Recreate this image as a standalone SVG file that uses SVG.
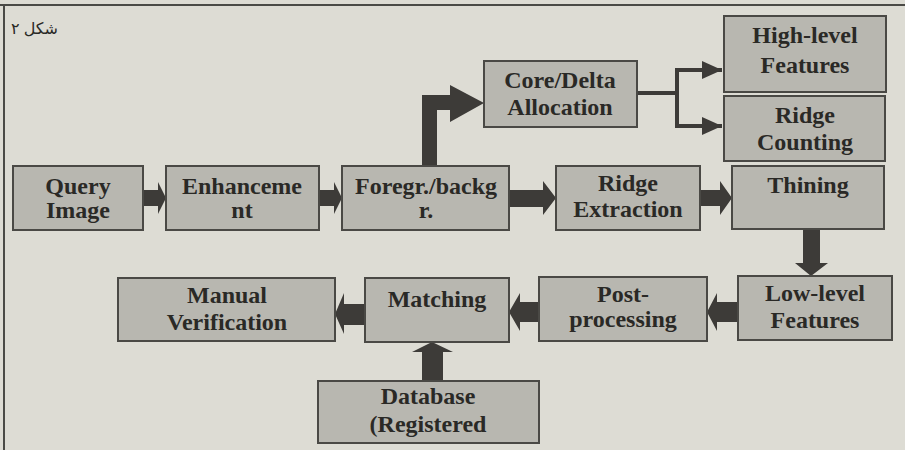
<svg xmlns="http://www.w3.org/2000/svg" width="905" height="450" viewBox="0 0 905 450">
<defs>
<style>
.bg{fill:#dddcd4}
.frame{stroke:#4a4a46;stroke-width:2;fill:none}
.box{fill:#b8b7b0;stroke:#4a4945;stroke-width:2}
.lbl{font-family:"Liberation Serif","Times New Roman",serif;font-weight:bold;font-size:24px;fill:#2a2926;text-anchor:middle}
.blk{fill:#3d3b38}
.thin{fill:none;stroke:#3d3b38;stroke-width:4;stroke-linejoin:miter}
.cap{font-family:"DejaVu Sans","Noto Sans",sans-serif;font-size:16px;fill:#2a2926}
</style>
<marker id="ah" markerUnits="userSpaceOnUse" markerWidth="22" markerHeight="20" refX="20" refY="10" orient="auto">
<path d="M0,1 L20,10 L0,19 Z" fill="#3d3b38"/>
</marker>
</defs>
<rect class="bg" x="0" y="0" width="905" height="450"/>
<path class="frame" d="M0 5 H905 M4 5 V450"/>
<text class="cap" x="11" y="34">۲</text>
<text class="cap" x="58" y="34" text-anchor="end">شکل</text>

<g id="connectors">
<polygon class="blk" points="143,190 158,190 158,182 166,198 158,214 158,206 143,206"/>
<polygon class="blk" points="319,190 334,190 334,182 342,198 334,214 334,206 319,206"/>
<polygon class="blk" points="509,190 543,190 543,181 556,198 543,215 543,207 509,207"/>
<polygon class="blk" points="700,190 720,190 720,181 732,198 720,215 720,206 700,206"/>
<polygon class="blk" points="422,166 422,95 450,95 450,85 484,103 450,122 450,110 437,110 437,166"/>
<polygon class="blk" points="803,229 820,229 820,263 828,263 811,276 795,263 803,263"/>
<polygon class="blk" points="738,302 717,302 717,293 707,312 717,331 717,322 738,322"/>
<polygon class="blk" points="539,302 520,302 520,293 509,312 520,331 520,322 539,322"/>
<polygon class="blk" points="365,304 344,304 344,293 335,314 344,334 344,325 365,325"/>
<polygon class="blk" points="422,381 422,352 412,352 432,342 453,352 443,352 443,381"/>
<path class="thin" d="M637 93 H677 V70 H722" marker-end="url(#ah)"/>
<path class="thin" d="M677 93 V126 H722" marker-end="url(#ah)"/>
</g>

<g id="query-image">
<rect class="box" x="13" y="166" width="130" height="64"/>
<text class="lbl" x="78" y="194">Query</text>
<text class="lbl" x="78" y="218">Image</text>
</g>
<g id="enhancement">
<rect class="box" x="166" y="166" width="153" height="64"/>
<text class="lbl" x="242" y="194">Enhanceme</text>
<text class="lbl" x="242" y="218">nt</text>
</g>
<g id="foreground">
<rect class="box" x="342" y="166" width="167" height="64"/>
<text class="lbl" x="426" y="194">Foregr./backg</text>
<text class="lbl" x="426" y="218">r.</text>
</g>
<g id="ridge-extraction">
<rect class="box" x="556" y="166" width="144" height="64"/>
<text class="lbl" x="628" y="191">Ridge</text>
<text class="lbl" x="628" y="217">Extraction</text>
</g>
<g id="thining">
<rect class="box" x="732" y="166" width="152" height="63"/>
<text class="lbl" x="808" y="193">Thining</text>
</g>
<g id="core-delta">
<rect class="box" x="484" y="61" width="153" height="66"/>
<text class="lbl" x="560" y="88">Core/Delta</text>
<text class="lbl" x="560" y="115">Allocation</text>
</g>
<g id="high-level">
<rect class="box" x="724" y="16" width="162" height="76"/>
<text class="lbl" x="805" y="43">High-level</text>
<text class="lbl" x="805" y="73">Features</text>
</g>
<g id="ridge-counting">
<rect class="box" x="724" y="96" width="161" height="65"/>
<text class="lbl" x="805" y="123">Ridge</text>
<text class="lbl" x="805" y="150">Counting</text>
</g>
<g id="low-level">
<rect class="box" x="738" y="276" width="154" height="64"/>
<text class="lbl" x="815" y="301">Low-level</text>
<text class="lbl" x="815" y="328">Features</text>
</g>
<g id="post-processing">
<rect class="box" x="539" y="277" width="168" height="64"/>
<text class="lbl" x="623" y="302">Post-</text>
<text class="lbl" x="623" y="327">processing</text>
</g>
<g id="matching">
<rect class="box" x="365" y="278" width="144" height="64"/>
<text class="lbl" x="437" y="307">Matching</text>
</g>
<g id="manual-verification">
<rect class="box" x="118" y="278" width="217" height="63"/>
<text class="lbl" x="227" y="303">Manual</text>
<text class="lbl" x="227" y="330">Verification</text>
</g>
<g id="database">
<rect class="box" x="318" y="381" width="221" height="62"/>
<text class="lbl" x="428" y="404">Database</text>
<text class="lbl" x="428" y="432">(Registered</text>
</g>
</svg>
